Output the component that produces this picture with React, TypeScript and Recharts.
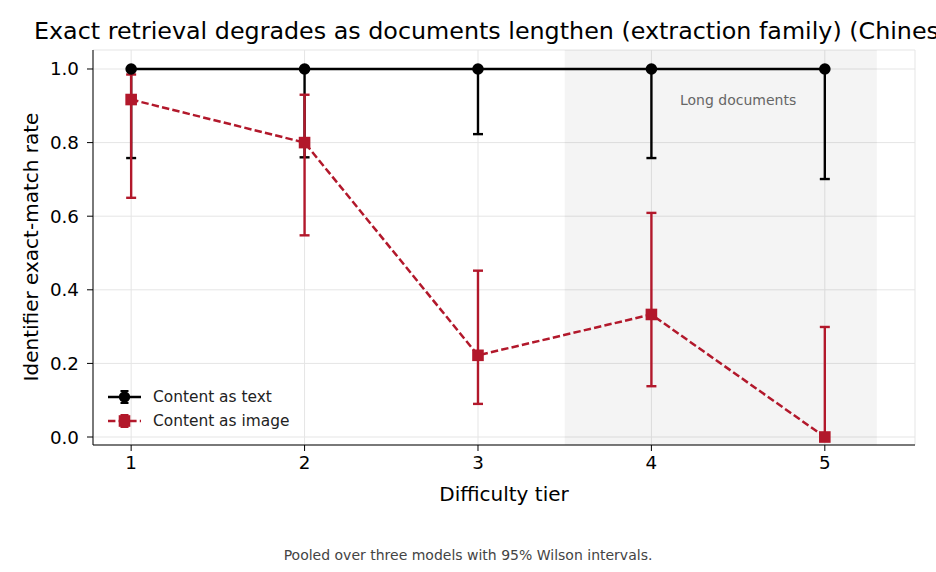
import React from "react";
import {
  ComposedChart,
  Line,
  ErrorBar,
  XAxis,
  YAxis,
  CartesianGrid,
  ReferenceArea,
  ReferenceDot,
} from "recharts";

// values (95% Wilson intervals)
const tiers = [1, 2, 3, 4, 5];
const textRate = [1, 1, 1, 1, 1];
const textLow = [0.758, 0.76, 0.823, 0.758, 0.701];
const textHigh = [1, 1, 1, 1, 1];
const imageRate = [0.917, 0.8, 0.222, 0.333, 0];
const imageLow = [0.65, 0.548, 0.09, 0.138, 0];
const imageHigh = [0.985, 0.93, 0.452, 0.609, 0.299];
const yTicks = [0, 0.2, 0.4, 0.6, 0.8, 1.0];

const RED = "#b2182b";
const FONT = "'DejaVu Sans', sans-serif";

const data = tiers.map((t, i) => ({
  tier: t,
  text: textRate[i],
  textErr: [textRate[i] - textLow[i], textHigh[i] - textRate[i]],
  image: imageRate[i],
  imageErr: [imageRate[i] - imageLow[i], imageHigh[i] - imageRate[i]],
}));

const SquareDot = (props: any) => {
  const { cx, cy, index } = props;
  if (cx == null || cy == null) return null;
  return <rect key={`sq-${index}`} x={cx - 5.8} y={cy - 5.8} width={11.6} height={11.6} fill={RED} />;
};

// legend drawn by hand so it doesn't eat into the plot area
const LegendBox = () => (
  <svg width={220} height={50} style={{ position: "absolute", left: 108, top: 385, fontFamily: FONT }}>
    <g>
      <line x1={0} y1={12} x2={33} y2={12} stroke="#000" strokeWidth={2.5} />
      <line x1={16.5} y1={6} x2={16.5} y2={18} stroke="#000" strokeWidth={2} />
      <line x1={12.5} y1={6} x2={20.5} y2={6} stroke="#000" strokeWidth={2} />
      <line x1={12.5} y1={18} x2={20.5} y2={18} stroke="#000" strokeWidth={2} />
      <circle cx={16.5} cy={12} r={5.7} fill="#000" />
      <text x={45} y={17} fontSize={15.4} fill="#222">Content as text</text>
    </g>
    <g>
      <line x1={0} y1={36} x2={33} y2={36} stroke={RED} strokeWidth={2.4} strokeDasharray="7.4 3.2" />
      <line x1={16.5} y1={30} x2={16.5} y2={42} stroke={RED} strokeWidth={2} />
      <line x1={12.5} y1={30} x2={20.5} y2={30} stroke={RED} strokeWidth={2} />
      <line x1={12.5} y1={42} x2={20.5} y2={42} stroke={RED} strokeWidth={2} />
      <rect x={10.7} y={30.2} width={11.6} height={11.6} fill={RED} />
      <text x={45} y={41} fontSize={15.4} fill="#222">Content as image</text>
    </g>
  </svg>
);

export default function App() {
  return (
    <div
      style={{
        position: "absolute",
        left: 0,
        top: 0,
        width: 936,
        height: 572,
        background: "#fff",
        fontFamily: FONT,
        overflow: "hidden",
      }}
    >
      <ComposedChart
        width={936}
        height={572}
        data={data}
        margin={{ top: 50, right: 21, bottom: 67, left: 13 }}
      >
        <CartesianGrid stroke="#e5e5e5" strokeWidth={1} />
        <ReferenceArea x1={3.5} x2={5.3} y1={-0.0217} y2={1.0516} fill="#000" fillOpacity={0.045} stroke="none" ifOverflow="hidden" />
        <XAxis
          dataKey="tier"
          type="number"
          domain={[0.78, 5.52]}
          ticks={tiers}
          allowDataOverflow
          stroke="#000"
          tickSize={6}
          tickMargin={5}
          height={60}
          tick={{ fill: "#000", fontSize: 18.3, fontFamily: FONT }}
        />
        <YAxis
          type="number"
          domain={[-0.0217, 1.0516]}
          ticks={yTicks}
          allowDataOverflow
          stroke="#000"
          tickSize={6}
          tickMargin={8}
          width={80}
          tickFormatter={(v: number) => v.toFixed(1)}
          tick={{ fill: "#000", fontSize: 18.3, fontFamily: FONT }}
        />
        <Line
          dataKey="text"
          type="linear"
          stroke="#000"
          strokeWidth={2.7}
          dot={{ r: 5.8, fill: "#000", stroke: "none" }}
          activeDot={false}
          isAnimationActive={false}
        >
          <ErrorBar dataKey="textErr" direction="y" width={5} stroke="#000" strokeWidth={2.4} isAnimationActive={false} />
        </Line>
        <Line
          dataKey="image"
          type="linear"
          stroke={RED}
          strokeWidth={2.5}
          strokeDasharray="7.4 3.2"
          dot={SquareDot}
          activeDot={false}
          isAnimationActive={false}
        >
          <ErrorBar dataKey="imageErr" direction="y" width={5} stroke={RED} strokeWidth={2.4} isAnimationActive={false} />
        </Line>
        <ReferenceDot
          x={4.5}
          y={0.915}
          r={1}
          fill="none"
          stroke="none"
          label={{ value: "Long documents", position: "center", fill: "#666", fontSize: 14, fontFamily: FONT }}
        />
      </ComposedChart>

      <LegendBox />

      <div style={{ position: "absolute", left: 34, top: 17, fontSize: 23.8, lineHeight: "28px", whiteSpace: "nowrap", color: "#000" }}>
        Exact retrieval degrades as documents lengthen (extraction family) (Chinese)
      </div>
      <div
        style={{
          position: "absolute",
          left: 31,
          top: 247,
          fontSize: 20,
          whiteSpace: "nowrap",
          transform: "translate(-50%, -50%) rotate(-90deg)",
          color: "#000",
        }}
      >
        Identifier exact-match rate
      </div>
      <div style={{ position: "absolute", left: 504, top: 494, fontSize: 20, whiteSpace: "nowrap", transform: "translate(-50%, -50%)", color: "#000" }}>
        Difficulty tier
      </div>
      <div style={{ position: "absolute", left: 468, top: 555, fontSize: 14, whiteSpace: "nowrap", transform: "translate(-50%, -50%)", color: "#444" }}>
        Pooled over three models with 95% Wilson intervals.
      </div>
    </div>
  );
}
